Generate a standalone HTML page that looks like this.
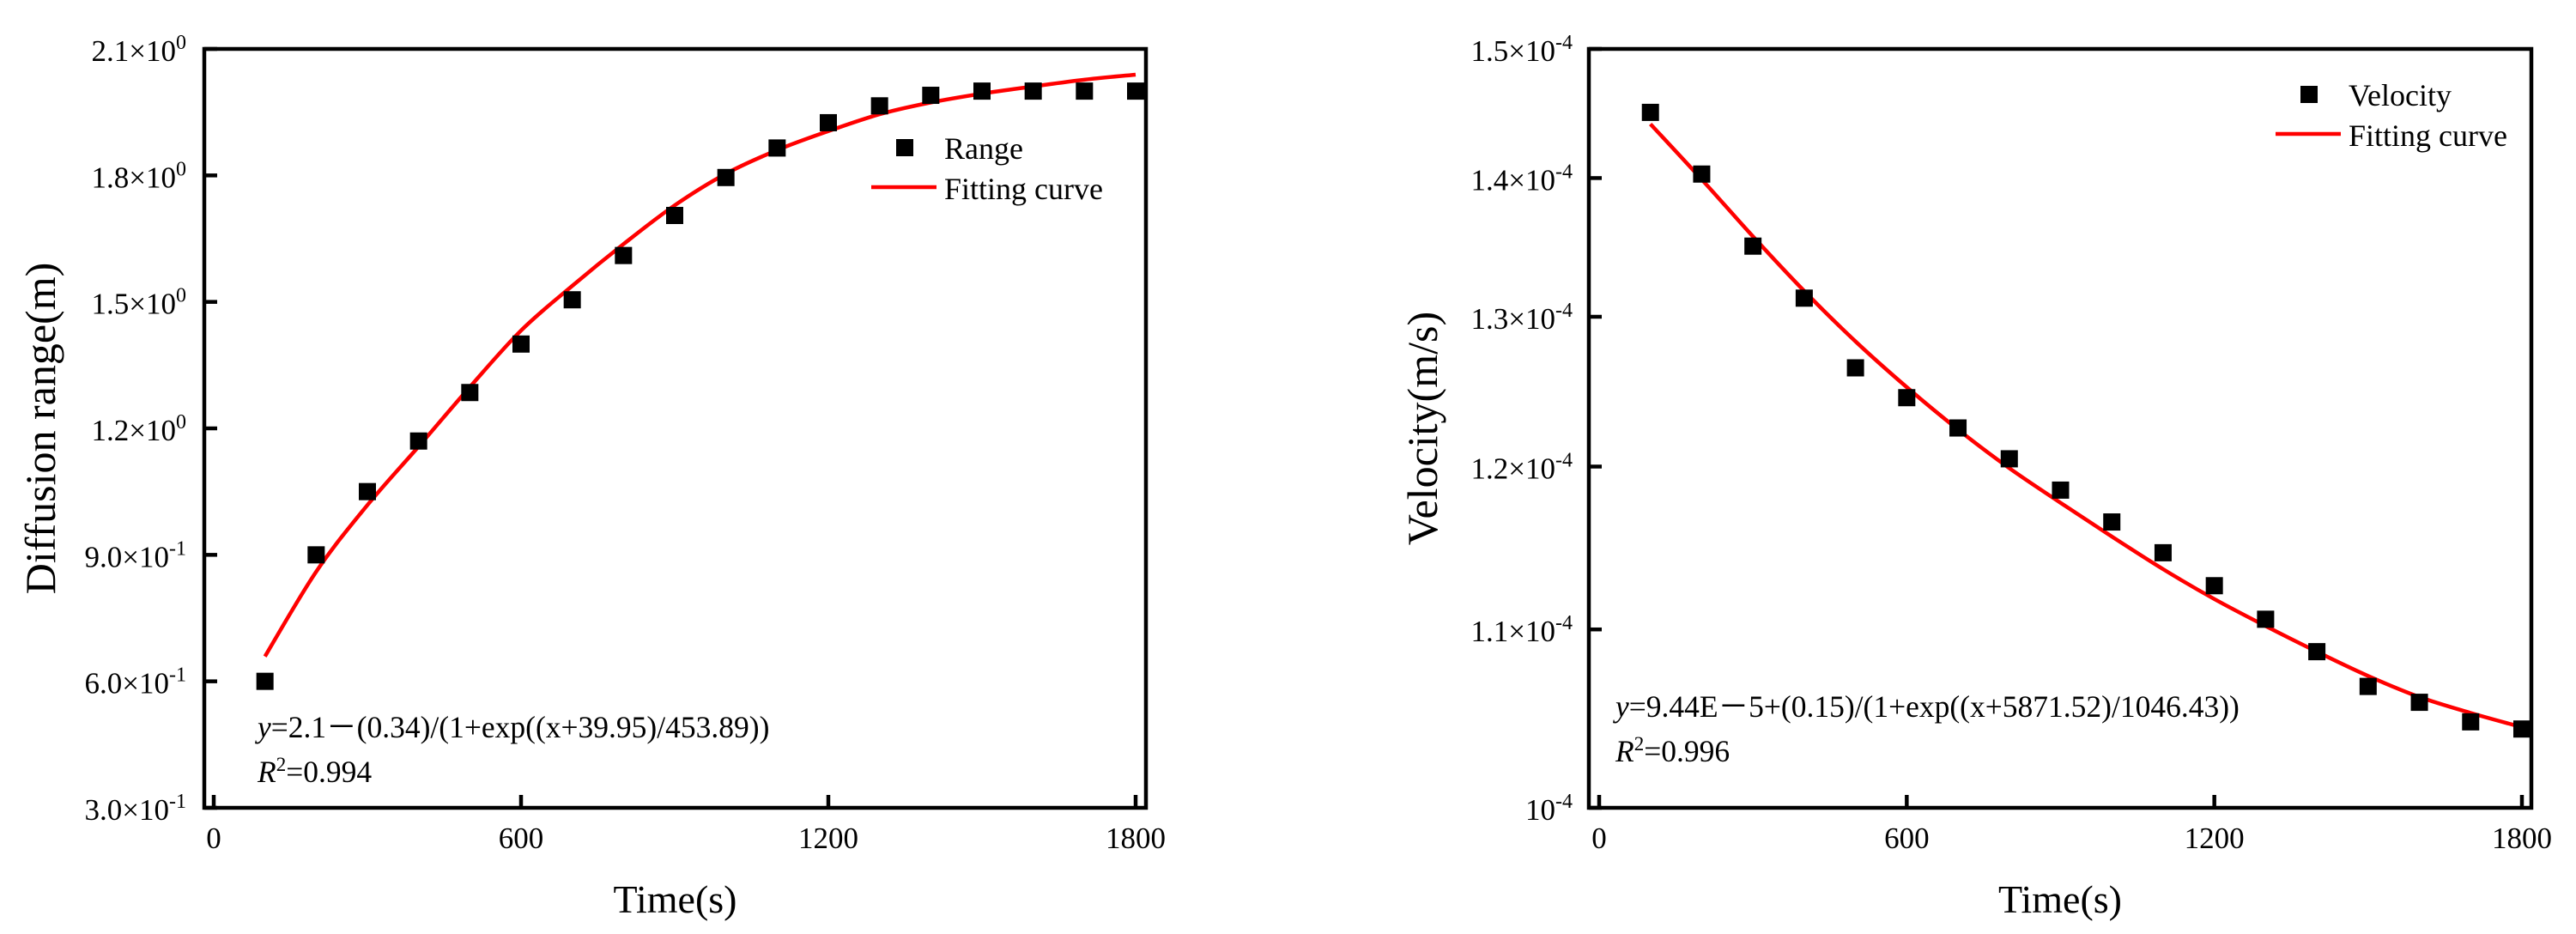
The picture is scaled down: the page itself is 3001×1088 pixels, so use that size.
<!DOCTYPE html>
<html><head><meta charset="utf-8">
<style>
html,body{margin:0;padding:0;background:#fff;}
svg{display:block;font-family:"Liberation Serif","DejaVu Serif",serif;}
</style></head>
<body>
<svg id="chart" width="3001" height="1088" viewBox="0 0 3001 1088" xmlns="http://www.w3.org/2000/svg">
<rect x="0" y="0" width="3001" height="1088" fill="#fff"/>
<g id="left"></g>
<g id="right"></g>
</svg>
<script>
const xCats = [100,200,300,400,500,600,700,800,900,1000,1100,1200,1300,1400,1500,1600,1700,1800];
const xTicks = [0,600,1200,1800];
const rangeVals = [0.6,0.9,1.05,1.17,1.285,1.40,1.505,1.61,1.705,1.795,1.865,1.925,1.965,1.99,2.0,2.0,2.0,2.0];
const rangeFit = [0.659,0.86,1.018,1.157,1.298,1.432,1.538,1.637,1.729,1.804,1.86,1.905,1.945,1.973,1.994,2.011,2.027,2.039];
const rangeTicks = [0.3,0.6,0.9,1.2,1.5,1.8,2.1];
const rangeTickMant = ["3.0","6.0","9.0","1.2","1.5","1.8","2.1"];
const rangeTickExp = ["-1","-1","-1","0","0","0","0"];
const velVals = [1.450,1.403,1.350,1.313,1.265,1.245,1.225,1.205,1.185,1.165,1.146,1.126,1.106,1.087,1.067,1.058,1.047,1.043];
const velFit = [1.441,1.399,1.357,1.318,1.283,1.252,1.224,1.199,1.177,1.156,1.136,1.118,1.102,1.087,1.073,1.061,1.052,1.044];
const velTicks = [1.0,1.1,1.2,1.3,1.4,1.5];
const velTickMant = ["","1.1","1.2","1.3","1.4","1.5"];

const NS = "http://www.w3.org/2000/svg";
function mk(parent, tag, attrs, text){
  const e = document.createElementNS(NS, tag);
  for (const k in attrs) e.setAttribute(k, attrs[k]);
  if (text !== undefined) e.textContent = text;
  parent.appendChild(e);
  return e;
}
function smoothPath(pts){
  let d = "M" + pts[0][0] + "," + pts[0][1];
  for (let i=0;i<pts.length-1;i++){
    const p0 = pts[i-1]||pts[i], p1 = pts[i], p2 = pts[i+1], p3 = pts[i+2]||p2;
    const c1x = p1[0]+(p2[0]-p0[0])/6, c1y = p1[1]+(p2[1]-p0[1])/6;
    const c2x = p2[0]-(p3[0]-p1[0])/6, c2y = p2[1]-(p3[1]-p1[1])/6;
    d += " C"+c1x+","+c1y+" "+c2x+","+c2y+" "+p2[0]+","+p2[1];
  }
  return d;
}

function drawPanel(g, cfg){
  const X = v => cfg.x0 + v*(cfg.x1800-cfg.x0)/1800;
  const Y = cfg.Y;
  const fr = mk(g,'rect',{x:cfg.L,y:57,width:cfg.R-cfg.L,height:941-57,fill:'none',stroke:'#000','stroke-width':4.5});
  
  
  xTicks.forEach(t=>{
    const l = mk(g,'line',{x1:X(t),x2:X(t),y1:941,y2:926,stroke:'#000','stroke-width':4.5});
    
    
    const tx = mk(g,'text',{x:X(t),y:988,'font-size':35,'text-anchor':'middle'},String(t));
    
    
  });
  cfg.yTicks.forEach((t,i)=>{
    const y = Y(t);
    const l = mk(g,'line',{x1:cfg.L,x2:cfg.L+15,y1:y,y2:y,stroke:'#000','stroke-width':4.5});
    
    
    const tx = mk(g,'text',{x:cfg.labelRight,y:y+14,'font-size':35,'text-anchor':'end'});
    
    
    const m = cfg.mant[i];
    mk(tx,'tspan',{}, m ? m + "\u00d710" : "10");
    mk(tx,'tspan',{'font-size':24,dy:-14}, cfg.exp[i]);
  });
  const pts = xCats.map((c,i)=>[X(c),Y(cfg.fit[i])]);
  const p = mk(g,'path',{d:smoothPath(pts),fill:'none',stroke:'#ff0000','stroke-width':4.5});
  
  
  xCats.forEach((c,i)=>{
    const r = mk(g,'rect',{x:X(c)-10,y:Y(cfg.vals[i])-10,width:20,height:20,fill:'#000'});
    
    
  });
  const lg = mk(g,'g',{});
  
  
  const lm = mk(lg,'rect',{x:cfg.legX+29,y:cfg.legY-10,width:20,height:20,fill:'#000'});
  
  
  const lt = mk(lg,'text',{x:cfg.legX+85,y:cfg.legY+13,'font-size':36},cfg.seriesName);
  
  
  const ll = mk(lg,'line',{x1:cfg.legX,x2:cfg.legX+76,y1:cfg.legY+46,y2:cfg.legY+46,stroke:'#ff0000','stroke-width':4.5});
  
  
  const lt2 = mk(lg,'text',{x:cfg.legX+85,y:cfg.legY+60,'font-size':36},'Fitting curve');
  
  
  const eq = mk(g,'text',{x:cfg.eqX,y:cfg.eqY,'font-size':35.5});
  
  
  mk(eq,'tspan',{'font-style':'italic'},'y');
  mk(eq,'tspan',{},cfg.eq);
  const r2 = mk(g,'text',{x:cfg.eqX,y:cfg.eqY+52,'font-size':35.5});
  
  
  mk(r2,'tspan',{'font-style':'italic'},'R');
  mk(r2,'tspan',{'font-size':23,dy:-13},'2');
  mk(r2,'tspan',{dy:13},cfg.r2);
  const xt = mk(g,'text',{x:(cfg.L+cfg.R)/2,y:1063,'font-size':46,'text-anchor':'middle'},'Time(s)');
  
  
  const yt = mk(g,'text',{x:0,y:0,'font-size':50,'text-anchor':'middle',transform:'translate('+(cfg.ytX)+',499) rotate(-90)'},cfg.yTitle);
  
  
}

drawPanel(document.getElementById('left'),{
  L:238,R:1335,x0:249,x1800:1323,
  Y:v=>941-(v-0.3)/1.8*884,
  yTicks:rangeTicks,mant:rangeTickMant,exp:rangeTickExp,
  labelRight:217,
  vals:rangeVals,fit:rangeFit,
  legX:1015,legY:172,seriesName:'Range',
  eqX:300,eqY:859,eq:'=2.1\uff0d(0.34)/(1+exp((x+39.95)/453.89))',r2:'=0.994',
  yTitle:'Diffusion range(m)',ytX:64
});
drawPanel(document.getElementById('right'),{
  L:1851,R:2949,x0:1863,x1800:2938,
  Y:v=>941-Math.log(v)/Math.log(1.5)*884,
  yTicks:velTicks,mant:velTickMant,exp:["-4","-4","-4","-4","-4","-4"],
  labelRight:1832,
  vals:velVals,fit:velFit,
  legX:2651,legY:110,seriesName:'Velocity',
  eqX:1882,eqY:835,eq:'=9.44E\uff0d5+(0.15)/(1+exp((x+5871.52)/1046.43))',r2:'=0.996',
  yTitle:'Velocity(m/s)',ytX:1674
});
</script>
</body></html>
